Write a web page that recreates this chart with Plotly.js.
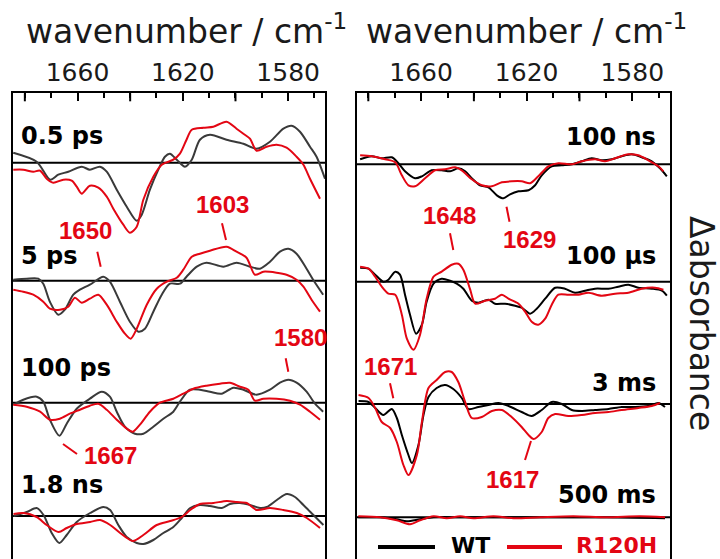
<!DOCTYPE html>
<html>
<head>
<meta charset="utf-8">
<script src="https://cdn.plot.ly/plotly-3.0.1.min.js"></script>
<style>
html, body { margin:0; padding:0; overflow:hidden; background:#fff; }
#chart { width:720px; height:580px; }
</style>
</head>
<body>
<div id="chart"></div>
<script>
// ---------- DATA (wavenumber in cm-1, difference absorbance in arbitrary units) ----------
// Left panel: ultrafast (0.5 ps, 5 ps, 100 ps, 1.8 ns)
const wn_05ps_wt = [1684.4,1675.5,1670.4,1667.3,1663.5,1658.4,1655.3,1651.5,1648.9,1645.1,1641.3,1637.5,1635.6,1632.5,1629.3,1626.8,1624.9,1622.3,1619.2,1616.6,1613.5,1609.7,1603.4,1597.0,1592.0,1586.9,1581.8,1578.7,1575.5,1571.7,1569.2,1566.0];
const dA_05ps_wt = [10,1,-17,-12,-9,-4,-7,-4,-9,-27,-44,-58,-52,-27,-7,6,9,3,-4,3,23,28,23,19,14,21,34,37,31,16,6,-16];
const wn_05ps_mut = [1684.4,1680.6,1676.8,1674.2,1671.7,1669.2,1665.4,1662.2,1660.3,1658.4,1655.3,1652.1,1648.9,1646.4,1642.6,1640.1,1637.5,1635.0,1631.2,1628.0,1623.6,1621.1,1618.6,1616.6,1612.2,1608.4,1603.4,1599.6,1597.0,1594.5,1592.0,1588.2,1584.4,1580.6,1576.8,1574.2,1571.7,1567.9];
const dA_05ps_mut = [-7,-7,-9,-8,-16,-20,-17,-18,-24,-31,-23,-25,-34,-46,-62,-70,-64,-37,-14,-2,3,9,23,33,35,36,41,34,29,24,12,16,18,15,6,-2,-16,-36];

const wn_5ps_wt = [1684.4,1679.3,1674.9,1673.0,1670.5,1667.3,1664.8,1661.6,1659.1,1655.3,1650.2,1647.7,1643.9,1640.1,1636.9,1634.4,1631.2,1628.0,1624.9,1621.1,1618.6,1614.7,1611.0,1604.6,1599.6,1594.5,1590.7,1586.9,1583.1,1579.9,1576.8,1573.0,1570.5,1566.7];
const dA_5ps_wt = [1,2,2,-3,-21,-34,-29,-14,-9,-4,4,-1,-21,-41,-51,-48,-31,-14,-3,-3,4,14,18,14,18,14,12,19,29,32,27,12,1,-14];
const wn_5ps_mut = [1684.4,1680.6,1676.8,1673.0,1670.5,1666.7,1663.5,1661.0,1658.4,1655.3,1652.1,1648.9,1645.1,1642.0,1639.8,1637.5,1633.7,1629.9,1626.1,1622.3,1619.8,1616.6,1613.5,1609.7,1603.4,1599.6,1595.8,1592.6,1589.4,1584.4,1580.6,1576.8,1574.2,1571.1,1567.9];
const dA_5ps_mut = [-9,-11,-14,-21,-28,-29,-26,-17,-22,-18,-14,-24,-41,-53,-58,-48,-24,-8,-1,3,11,24,27,30,34,29,23,6,9,8,6,1,-6,-19,-31];

const wn_100ps_wt = [1684.4,1680.6,1675.5,1673.0,1670.5,1666.9,1664.1,1660.3,1655.3,1650.8,1647.7,1645.1,1642.0,1638.2,1635.0,1631.2,1627.4,1623.6,1621.1,1617.3,1613.5,1609.7,1605.3,1600.8,1597.0,1592.0,1586.9,1583.1,1579.9,1576.8,1573.0,1569.8,1566.7];
const dA_100ps_wt = [-2,3,6,1,-17,-33,-21,-6,4,11,6,-9,-24,-31,-31,-24,-16,-9,1,13,13,11,9,15,13,8,13,20,23,20,11,-1,-9];
const wn_100ps_mut = [1684.4,1679.3,1674.2,1670.5,1666.7,1662.9,1659.1,1655.3,1652.1,1648.9,1645.1,1641.3,1639.0,1636.3,1632.5,1628.7,1623.6,1619.8,1616.0,1611.0,1605.9,1602.1,1598.3,1595.1,1592.6,1589.4,1584.4,1579.3,1575.5,1571.7,1567.9];
const dA_100ps_mut = [-2,-4,-9,-17,-16,-11,-7,-3,-1,-7,-17,-26,-29,-22,-9,0,4,9,14,17,19,20,16,13,2,4,4,2,-2,-9,-17];

const wn_18ns_wt = [1684.3,1679.3,1675.5,1672.9,1669.8,1666.9,1664.1,1660.3,1655.2,1650.2,1647.6,1644.5,1641.3,1637.5,1635.0,1631.2,1627.4,1623.6,1620.4,1617.2,1613.5,1609.7,1605.2,1602.1,1598.3,1594.5,1590.7,1588.1,1584.3,1580.5,1577.4,1574.2,1570.4,1566.6];
const dA_18ns_wt = [0,4,8,1,-17,-27,-19,-6,3,9,6,-9,-21,-27,-28,-24,-17,-11,-2,8,11,10,8,12,13,11,8,9,16,22,19,11,1,-9];
const wn_18ns_mut = [1684.3,1680.5,1675.5,1671.7,1667.2,1664.1,1660.3,1655.2,1651.4,1647.6,1643.8,1639.0,1635.0,1629.9,1624.8,1620.4,1617.2,1613.5,1608.4,1603.3,1599.5,1595.7,1591.9,1586.9,1581.8,1576.7,1572.9,1567.9];
const dA_18ns_mut = [2,3,-1,-9,-16,-12,-8,-6,-4,-9,-17,-25,-19,-9,-5,-1,6,12,13,15,14,13,6,8,6,3,-2,-12];

// Right panel: slow (100 ns, 100 µs, 3 ms, 500 ms)
const wn_100ns_wt = [1683.1,1678.7,1674.9,1671.1,1668.6,1666.1,1662.3,1659.7,1656.0,1652.2,1649.0,1645.9,1643.3,1640.8,1637.7,1634.5,1631.3,1628.8,1626.3,1623.1,1619.3,1616.8,1614.3,1610.5,1606.7,1602.9,1599.1,1595.4,1591.6,1587.8,1584.0,1580.2,1576.4,1572.6,1569.5,1566.9];
const dA_100ns_wt = [5,8,6,7,1,-7,-14,-12,-6,-6,-7,-4,-7,-14,-21,-23,-31,-34,-30,-27,-26,-21,-11,-2,-1,0,3,6,4,5,8,10,7,3,-4,-12];
const wn_100ns_mut = [1683.1,1678.7,1673.6,1669.8,1667.3,1664.8,1662.3,1658.5,1654.7,1650.9,1647.1,1644.6,1640.8,1637.0,1633.2,1629.4,1625.7,1621.9,1618.7,1615.6,1611.8,1608.0,1602.9,1599.1,1594.1,1590.3,1586.5,1581.5,1577.7,1573.9,1570.1,1568.2];
const dA_100ns_mut = [9,8,5,2,-11,-21,-22,-14,-6,-5,-3,-6,-15,-21,-22,-18,-17,-17,-19,-12,-2,1,0,3,5,3,6,10,9,4,-2,-7];

const wn_100us_wt = [1683.1,1679.9,1677.4,1674.3,1672.4,1669.8,1668.0,1666.1,1664.2,1661.9,1659.7,1657.9,1655.3,1652.2,1649.0,1646.5,1644.0,1640.8,1638.3,1634.5,1632.0,1628.2,1624.4,1621.9,1618.7,1616.2,1613.0,1609.2,1605.5,1601.7,1597.9,1594.1,1589.0,1585.3,1581.5,1577.7,1572.6,1568.8,1566.9];
const dA_100us_wt = [14,13,7,0,2,10,7,-13,-33,-52,-43,-20,-2,3,1,-2,-7,-19,-21,-18,-22,-22,-24,-26,-32,-27,-17,-6,-7,-11,-9,-7,-7,-5,-3,-6,-7,-9,-14];
const wn_100us_mut = [1683.1,1679.9,1677.4,1674.9,1672.4,1669.8,1667.3,1665.4,1662.9,1660.4,1657.9,1655.3,1652.2,1648.4,1645.9,1644.0,1641.4,1639.5,1635.8,1632.0,1629.4,1626.9,1623.1,1620.6,1618.1,1615.6,1613.0,1610.5,1608.0,1604.2,1600.4,1596.6,1591.6,1586.5,1581.5,1576.4,1571.4,1568.2];
const dA_100us_mut = [15,13,5,-5,-12,-13,-33,-57,-68,-53,-17,5,10,17,18,12,-8,-22,-19,-17,-13,-17,-22,-30,-40,-43,-37,-23,-13,-13,-13,-11,-14,-12,-11,-7,-6,-8];

const wn_3ms_wt = [1683.7,1679.9,1677.4,1674.3,1671.1,1669.2,1667.3,1664.8,1663.5,1661.0,1659.1,1657.2,1654.1,1650.9,1647.8,1644.6,1642.1,1638.3,1634.5,1630.7,1626.9,1621.9,1618.1,1614.3,1610.5,1606.7,1602.9,1599.1,1594.1,1589.0,1584.0,1578.9,1573.9,1570.1,1567.6];
const dA_3ms_wt = [3,2,-4,-11,-5,-14,-31,-51,-59,-41,-11,7,16,19,15,6,-5,-3,-1,1,-2,-8,-12,-6,2,0,-6,-7,-6,-5,-3,-3,-2,1,-3];
const wn_3ms_mut = [1683.7,1679.9,1677.4,1674.9,1671.7,1669.2,1666.7,1664.8,1661.6,1659.7,1657.2,1654.1,1650.9,1648.4,1645.9,1643.3,1640.8,1637.0,1633.2,1629.4,1625.7,1621.9,1619.3,1617.4,1614.3,1611.8,1609.2,1604.2,1599.1,1594.1,1589.0,1584.0,1577.7,1572.6,1569.5];
const dA_3ms_mut = [9,6,-4,-18,-24,-38,-61,-71,-51,-18,16,24,32,32,22,2,-14,-13,-7,-6,-13,-23,-31,-35,-28,-14,-10,-12,-11,-9,-8,-6,-4,-2,1];

const wn_500ms_wt = [1683.8,1675.5,1669.2,1665.4,1660.4,1655.3,1645.2,1632.6,1615.0,1589.7,1567.6];
const dA_500ms_wt = [0,0,-2,-4,-2,0,0,0,0,0,-1];
const wn_500ms_mut = [1683.8,1675.5,1669.2,1664.2,1660.4,1655.3,1650.3,1645.2,1640.2,1632.6,1625.0,1615.0,1602.3,1589.7,1577.1,1567.6];
const dA_500ms_mut = [1,0,-3,-7,-3,1,-1,1,-1,1,-1,0,1,0,1,0];

const delaysLeft = ["0.5 ps", "5 ps", "100 ps", "1.8 ns"];
const delaysRight = ["100 ns", "100 µs", "3 ms", "500 ms"];
const seriesNames = ["WT", "R120H"];
const labelledTicks = [1660, 1620, 1580];
const unlabelledLongTicks = [1680, 1640, 1600];
const bandLabels = ["1650", "1603", "1580", "1667", "1648", "1629", "1671", "1617"];

// ---------- LAYOUT / STYLE ----------
const W = 720, H = 580;
const X = px => px / W;
const Y = py => 1 - py / H;
const RED = "#e30613";
const GRAY = "#3a3a3a";
const BLACK = "#000000";
const PLOT_TOP = 93.3;
const PLOT_H = H - PLOT_TOP;

const leftSets = [
  [wn_05ps_wt, dA_05ps_wt, wn_05ps_mut, dA_05ps_mut],
  [wn_5ps_wt, dA_5ps_wt, wn_5ps_mut, dA_5ps_mut],
  [wn_100ps_wt, dA_100ps_wt, wn_100ps_mut, dA_100ps_mut],
  [wn_18ns_wt, dA_18ns_wt, wn_18ns_mut, dA_18ns_mut]
];
const rightSets = [
  [wn_100ns_wt, dA_100ns_wt, wn_100ns_mut, dA_100ns_mut],
  [wn_100us_wt, dA_100us_wt, wn_100us_mut, dA_100us_mut],
  [wn_3ms_wt, dA_3ms_wt, wn_3ms_mut, dA_3ms_mut],
  [wn_500ms_wt, dA_500ms_wt, wn_500ms_mut, dA_500ms_mut]
];
const offsetsLeft = [-162.7, -280.7, -402.7, -516];
const offsetsRight = [-164.3, -281.7, -404, -517.3];

const traces = [];
function addSet(sets, offsets, xa, ya, wtColor) {
  sets.forEach((s, i) => {
    traces.push({x: s[0], y: s[1].map(v => v + offsets[i]), xaxis: xa, yaxis: ya, type: "scatter", mode: "lines",
      name: seriesNames[0], showlegend: false, hoverinfo: "skip",
      line: {color: wtColor, width: 2, shape: "spline", smoothing: 0.8}});
    traces.push({x: s[2], y: s[3].map(v => v + offsets[i]), xaxis: xa, yaxis: ya, type: "scatter", mode: "lines",
      name: seriesNames[1], showlegend: false, hoverinfo: "skip",
      line: {color: RED, width: 2, shape: "spline", smoothing: 0.8}});
  });
}
addSet(leftSets, offsetsLeft, "x", "y", GRAY);
addSet(rightSets, offsetsRight, "x2", "y2", BLACK);

const xCommon = {
  side: "top", showline: true, mirror: true, linecolor: "#000", linewidth: 2,
  ticks: "inside", ticklen: 8, tickwidth: 2, tickcolor: "#000",
  tickmode: "array", tickvals: labelledTicks,
  minor: {tickmode: "linear", tick0: 1570, dtick: 10, ticks: "inside", ticklen: 5, tickwidth: 2, tickcolor: "#000", showgrid: false},
  tickfont: {family: "DejaVu Sans", size: 25, color: "#1a1a1a"},
  showgrid: false, zeroline: false, fixedrange: true
};
const yCommon = {
  showline: true, mirror: true, linecolor: "#000", linewidth: 2,
  ticks: "", showticklabels: false, showgrid: false, zeroline: false,
  range: [-H, -PLOT_TOP], domain: [0, Y(PLOT_TOP)], fixedrange: true
};

const shapes = [];
// long unlabelled ticks (every 20 cm-1 between labelled ones)
["x", "x2"].forEach(xa => unlabelledLongTicks.forEach(v => shapes.push({
  type: "line", xref: xa, yref: (xa === "x" ? "y" : "y2") + " domain", x0: v, x1: v, y0: 1, y1: 1 - 8 / PLOT_H,
  line: {color: "#000", width: 2}})));

offsetsLeft.forEach(o => shapes.push({type: "line", xref: "x domain", yref: "y", x0: 0, x1: 1, y0: o, y1: o, line: {color: "#000", width: 2}, layer: "below"}));
offsetsRight.forEach(o => shapes.push({type: "line", xref: "x2 domain", yref: "y2", x0: 0, x1: 1, y0: o, y1: o, line: {color: "#000", width: 2}, layer: "below"}));

// red pointer lines (pixel positions)
const pointers = [
  [97.3, 251.7, 100.7, 266.7],
  [222, 223.3, 226, 240],
  [285.7, 358.3, 288.3, 371.7],
  [63, 444, 77, 454],
  [450, 233.3, 453.3, 250],
  [506.5, 206.7, 509.5, 221.7],
  [390, 383.3, 393.3, 398.3],
  [531, 441, 525, 460]
];
pointers.forEach(p => shapes.push({type: "line", xref: "paper", yref: "paper", x0: X(p[0]), y0: Y(p[1]), x1: X(p[2]), y1: Y(p[3]), line: {color: RED, width: 2}}));

// legend samples
shapes.push({type: "line", xref: "paper", yref: "paper", x0: X(378), x1: X(435), y0: Y(547), y1: Y(547), line: {color: BLACK, width: 4}});
shapes.push({type: "line", xref: "paper", yref: "paper", x0: X(507), x1: X(562), y0: Y(547), y1: Y(547), line: {color: RED, width: 4}});

const annotations = [];
const titleFont = {family: "DejaVu Sans", size: 33, color: "#1a1a1a"};
annotations.push({xref: "paper", yref: "paper", x: X(186), y: Y(30), xanchor: "center", yanchor: "middle", showarrow: false, text: "wavenumber / cm<sup>-1</sup>", font: titleFont});
annotations.push({xref: "paper", yref: "paper", x: X(526), y: Y(30), xanchor: "center", yanchor: "middle", showarrow: false, text: "wavenumber / cm<sup>-1</sup>", font: titleFont});
annotations.push({xref: "paper", yref: "paper", x: X(701), y: Y(323), xanchor: "center", yanchor: "middle", showarrow: false, textangle: 90, text: "Δabsorbance", font: titleFont});

const delayFont = {family: "DejaVu Sans", size: 24, color: "#000", weight: "bold"};
const leftLabelY = [136.7, 256.5, 369, 486];
const rightLabelY = [137.5, 256.5, 384, 496];
delaysLeft.forEach((t, i) => annotations.push({xref: "paper", yref: "paper", x: X(19), y: Y(leftLabelY[i] - 1), xanchor: "left", yanchor: "middle", showarrow: false, text: t, font: delayFont}));
delaysRight.forEach((t, i) => annotations.push({xref: "paper", yref: "paper", x: X(658), y: Y(rightLabelY[i] - 1), xanchor: "right", yanchor: "middle", showarrow: false, text: t, font: delayFont}));

const bandFont = {family: "Liberation Sans", size: 24, color: RED, weight: "bold"};
const bandPos = [[85, 232], [222, 205], [300, 338], [110, 456], [449, 216], [529, 241], [390, 367], [512, 480]];
bandLabels.forEach((t, i) => annotations.push({xref: "paper", yref: "paper", x: X(bandPos[i][0]), y: Y(bandPos[i][1] - 1), xanchor: "center", yanchor: "middle", showarrow: false, text: t, font: bandFont}));

const legFont = {family: "DejaVu Sans", size: 22, weight: "bold"};
annotations.push({xref: "paper", yref: "paper", x: X(449), y: Y(545.5), xanchor: "left", yanchor: "middle", showarrow: false, text: seriesNames[0], font: Object.assign({}, legFont, {color: BLACK})});
annotations.push({xref: "paper", yref: "paper", x: X(574), y: Y(545.5), xanchor: "left", yanchor: "middle", showarrow: false, text: seriesNames[1], font: Object.assign({}, legFont, {color: RED})});

const layout = {
  width: W, height: H,
  margin: {l: 0, r: 0, t: 0, b: 0},
  paper_bgcolor: "#fff", plot_bgcolor: "#fff",
  showlegend: false,
  xaxis: Object.assign({}, xCommon, {domain: [X(13), X(325)], range: [1684.5, 1566.0], anchor: "y"}),
  xaxis2: Object.assign({}, xCommon, {domain: [X(356.7), X(670)], range: [1684.4, 1565.7], anchor: "y2"}),
  yaxis: Object.assign({}, yCommon, {anchor: "x"}),
  yaxis2: Object.assign({}, yCommon, {anchor: "x2"}),
  shapes: shapes,
  annotations: annotations
};

Plotly.newPlot("chart", traces, layout, {displayModeBar: false, staticPlot: true});
</script>
</body>
</html>
